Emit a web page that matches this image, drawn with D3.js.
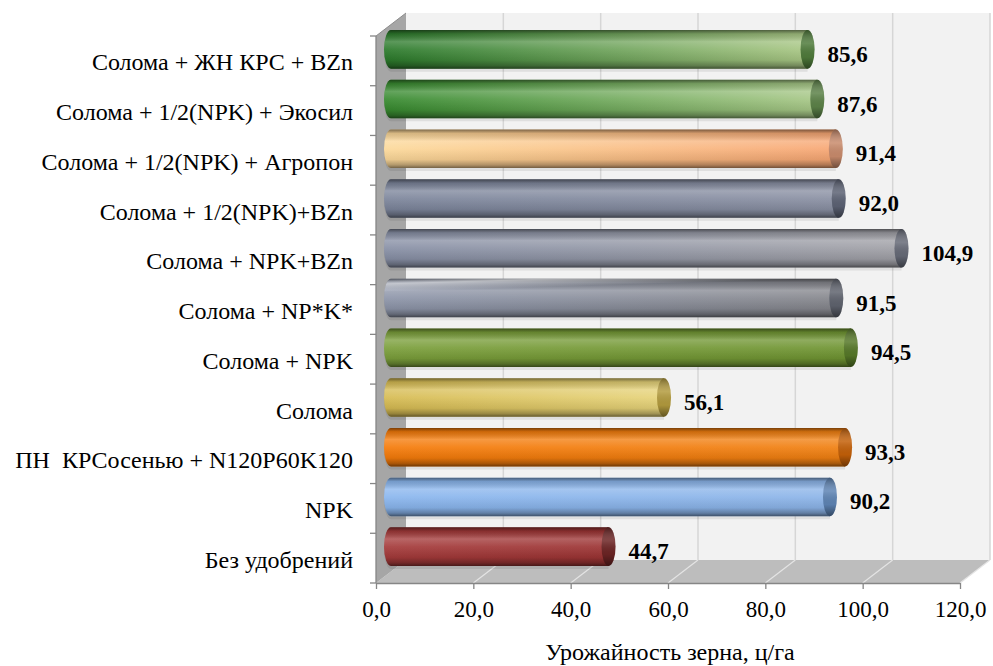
<!DOCTYPE html>
<html>
<head>
<meta charset="utf-8">
<script src="https://cdn.jsdelivr.net/npm/d3@7/dist/d3.min.js"></script>
<style>
  html, body { margin: 0; padding: 0; background: #fff; }
  svg { display: block; }
  svg text { font-family: "Liberation Serif", Tinos, "Times New Roman", Times, "DejaVu Serif", serif !important; fill: #000; }
</style>
</head>
<body>
<svg id="chart" width="993" height="666"></svg>
<script>
// Treatments, listed top to bottom
const categories = [
  "Солома + ЖН КРС + BZn",
  "Солома + 1/2(NPK) + Экосил",
  "Солома + 1/2(NPK) + Агропон",
  "Солома + 1/2(NPK)+BZn",
  "Солома + NPK+BZn",
  "Солома + NP*K*",
  "Солома + NPK",
  "Солома",
  "ПН  КРСосенью + N120P60K120",
  "NPK",
  "Без удобрений"
];
// Grain yield, c/ha
const values = [85.6, 87.6, 91.4, 92.0, 104.9, 91.5, 94.5, 56.1, 93.3, 90.2, 44.7];
const xTicks = [0, 20, 40, 60, 80, 100, 120];
const xTitle = "Урожайность зерна, ц/га";

// Bar fills: left colour, right colour, end-cap colour
const barLeft  = ["#2b7a2b", "#378a2f", "#fcd99a", "#7c859b", "#878fa5", "#8d95a9", "#7b9f3b", "#d6bb52", "#f57b0a", "#8ab6ee", "#a53b3b"];
const barRight = ["#a9c785", "#a8c888", "#f7a673", "#8a90a3", "#a0a0a6", "#85868c", "#6f9432", "#e6d37a", "#f08012", "#8cb4e8", "#9c3434"];
const barCap   = ["#4f7b3b", "#5c8248", "#c98b6c", "#5c6274", "#666a77", "#5f636e", "#567828", "#b39b3e", "#c46008", "#5e84b4", "#6c2424"];

const svg = d3.select("#chart");
const defs = svg.append("defs");

// 3D frame geometry
const depthX = 30, depthY = -23;
const x = d3.scaleLinear().domain([0, 120]).range([376, 960]);
const y = d3.scaleBand().domain(categories).range([36, 583]).padding(0);
const yBottom = 583, yTop = 36;
const fmt = v => v.toFixed(1).replace(".", ",");

// Back wall
svg.append("polygon")
  .attr("points", [[x(0) + depthX, yTop + depthY], [x(120) + depthX, yTop + depthY], [x(120) + depthX, yBottom + depthY], [x(0) + depthX, yBottom + depthY]].join(" "))
  .attr("fill", "#f2f2f2");

// Vertical gridlines on the back wall
svg.append("g").selectAll("line").data(xTicks.slice(1)).join("line")
  .attr("x1", d => x(d) + depthX).attr("x2", d => x(d) + depthX)
  .attr("y1", yTop + depthY).attr("y2", yBottom + depthY)
  .attr("stroke", "#d6d6d6").attr("stroke-width", 1.5);

// Floor
svg.append("polygon")
  .attr("points", [[x(0), yBottom], [x(0) + depthX, yBottom + depthY], [x(120) + depthX, yBottom + depthY], [x(120), yBottom]].join(" "))
  .attr("fill", "#bdbdbd");
svg.append("g").selectAll("line").data(xTicks.slice(1)).join("line")
  .attr("x1", d => x(d)).attr("x2", d => x(d) + depthX)
  .attr("y1", yBottom).attr("y2", yBottom + depthY)
  .attr("stroke", "#e4e4e4").attr("stroke-width", 1.2);

// Left side wall
svg.append("polygon")
  .attr("points", [[x(0), yTop], [x(0) + depthX, yTop + depthY], [x(0) + depthX, yBottom + depthY], [x(0), yBottom]].join(" "))
  .attr("fill", "#a6a6a6");
svg.append("line")
  .attr("x1", x(0)).attr("y1", yTop).attr("x2", x(0) + depthX).attr("y2", yTop + depthY)
  .attr("stroke", "#8c8c8c").attr("stroke-width", 1);

// Vertical shading shared by all cylinders
const shade = defs.append("linearGradient").attr("id", "shade")
  .attr("x1", 0).attr("y1", 0).attr("x2", 0).attr("y2", 1);
[[0, "#000", 0.5], [0.1, "#000", 0.15], [0.3, "#fff", 0.22], [0.5, "#fff", 0.08], [0.78, "#000", 0.08], [0.92, "#000", 0.3], [1, "#000", 0.55]]
  .forEach(([o, c, a]) => shade.append("stop").attr("offset", o).attr("stop-color", c).attr("stop-opacity", a));

const capShade = defs.append("linearGradient").attr("id", "capShade")
  .attr("x1", 0).attr("y1", 0).attr("x2", 0).attr("y2", 1);
[[0, "#000", 0.35], [0.35, "#fff", 0.15], [0.7, "#000", 0.05], [1, "#000", 0.45]]
  .forEach(([o, c, a]) => capShade.append("stop").attr("offset", o).attr("stop-color", c).attr("stop-opacity", a));

// Diagonal sheen used on the steel-grey bar
const sheen = defs.append("linearGradient").attr("id", "sheen")
  .attr("x1", 0).attr("y1", 0).attr("x2", 0.35).attr("y2", 1);
[[0, "#fff", 0.0], [0.12, "#fff", 0.55], [0.3, "#fff", 0.0], [1, "#fff", 0]]
  .forEach(([o, c, a]) => sheen.append("stop").attr("offset", o).attr("stop-color", c).attr("stop-opacity", a));

// Horizontal base colour per bar
categories.forEach((c, i) => {
  const g = defs.append("linearGradient").attr("id", "base" + i)
    .attr("x1", 0).attr("y1", 0).attr("x2", 1).attr("y2", 0);
  g.append("stop").attr("offset", 0).attr("stop-color", barLeft[i]);
  g.append("stop").attr("offset", 1).attr("stop-color", barRight[i]);
});

const barH = y.step() * 0.775;
const rx = 7;
const rowCenter = c => y(c) + y.bandwidth() / 2 + depthY / 2;
const x0 = x(0) + depthX / 2;
const xEnd = v => x(v) + depthX / 2;

// Cylinder outline: rounded at the left, open at the right where the cap sits
const bodyPath = (v, cy) => {
  const top = cy - barH / 2, bot = cy + barH / 2, r = barH / 2;
  return `M${xEnd(v)},${top} L${x0},${top} A${rx},${r} 0 0 0 ${x0},${bot} L${xEnd(v)},${bot} Z`;
};

const bars = svg.append("g").selectAll("g").data(categories).join("g");

// faint shadow on the wall under each bar
bars.append("path")
  .attr("d", (c, i) => bodyPath(values[i], rowCenter(c) + 3))
  .attr("fill", "#000").attr("opacity", 0.08);

bars.append("path")
  .attr("d", (c, i) => bodyPath(values[i], rowCenter(c)))
  .attr("fill", (c, i) => `url(#base${i})`);
bars.append("path")
  .attr("d", (c, i) => bodyPath(values[i], rowCenter(c)))
  .attr("fill", "url(#shade)");
bars.filter((c, i) => i === 5).append("path")
  .attr("d", (c, i) => bodyPath(values[5], rowCenter(c)))
  .attr("fill", "url(#sheen)");
bars.append("ellipse")
  .attr("cx", (c, i) => xEnd(values[i])).attr("cy", c => rowCenter(c))
  .attr("rx", rx).attr("ry", barH / 2)
  .attr("fill", (c, i) => barCap[i]);
bars.append("ellipse")
  .attr("cx", (c, i) => xEnd(values[i])).attr("cy", c => rowCenter(c))
  .attr("rx", rx).attr("ry", barH / 2)
  .attr("fill", "url(#capShade)");

// Value labels
bars.append("text")
  .attr("x", (c, i) => xEnd(values[i]) + 20)
  .attr("y", c => rowCenter(c) + 12.5)
  .attr("font-size", 23).attr("font-weight", "bold")
  .text((c, i) => fmt(values[i]));

// Bottom axis
const xAxis = svg.append("g")
  .attr("transform", `translate(0,${yBottom})`)
  .call(d3.axisBottom(x).tickValues(xTicks).tickFormat(fmt).tickSize(6).tickSizeOuter(0).tickPadding(12));
xAxis.select(".domain").attr("stroke", "#868686").attr("stroke-width", 1.3);
xAxis.selectAll(".tick line").attr("stroke", "#868686").attr("stroke-width", 1.3);
xAxis.selectAll(".tick text").attr("font-size", 23).attr("fill", "#000");

// Left axis: line, ticks on band boundaries, labels on band centres
const boundaries = categories.map(c => y(c)).concat([yBottom]);
svg.append("line")
  .attr("x1", x(0)).attr("x2", x(0)).attr("y1", yTop).attr("y2", yBottom)
  .attr("stroke", "#868686").attr("stroke-width", 1.3);
svg.append("g").selectAll("line").data(boundaries).join("line")
  .attr("x1", x(0) - 6).attr("x2", x(0)).attr("y1", d => d).attr("y2", d => d)
  .attr("stroke", "#868686").attr("stroke-width", 1.3);

const yAxis = svg.append("g")
  .attr("transform", `translate(${x(0) - 23},0)`)
  .call(d3.axisLeft(y).tickSize(0).tickPadding(0));
yAxis.select(".domain").remove();
yAxis.selectAll(".tick text")
  .attr("font-size", 24).attr("fill", "#000")
  .attr("dy", "0.4em")
  .style("white-space", "pre");

// Axis title
svg.append("text")
  .attr("x", 670).attr("y", 660)
  .attr("text-anchor", "middle")
  .attr("font-size", 24)
  .text(xTitle);
</script>
</body>
</html>
